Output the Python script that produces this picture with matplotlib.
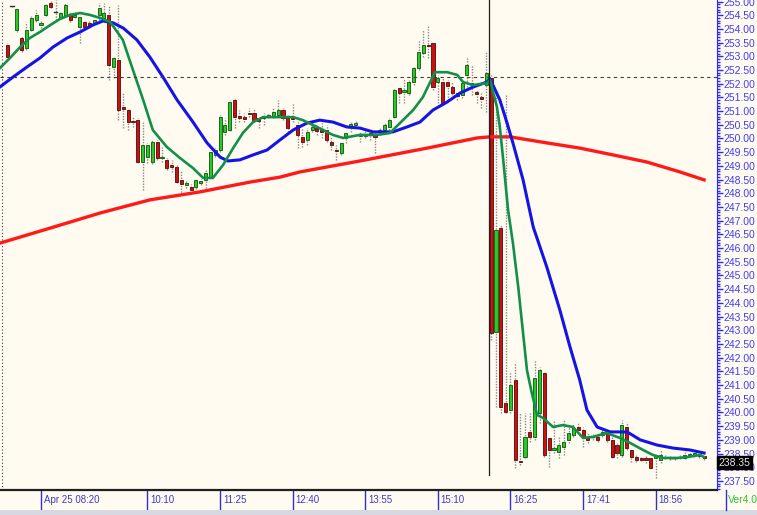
import matplotlib
matplotlib.use('Agg')
import matplotlib.pyplot as plt
import matplotlib.transforms as mtransforms
from matplotlib.patches import Rectangle
from matplotlib.lines import Line2D
from matplotlib.ticker import MultipleLocator, FormatStrFormatter

plt.rcParams['font.family'] = ['Liberation Sans', 'DejaVu Sans']

## 5 minute candles, bar 1 .. 145
opens = [253.41, 254.84, 253.96, 253.67, 253.30, 253.96, 254.33, 254.14, 254.51, 254.95,
         254.62, 254.40, 254.51, 254.51, 254.45, 254.07, 254.25, 254.22, 254.22, 254.51,
         254.40, 254.51, 252.61, 252.87, 251.15, 251.04, 250.64, 250.68, 249.14, 249.33,
         249.14, 249.87, 249.29, 249.22, 249.03, 248.96, 248.49, 248.30, 248.23, 248.23,
         248.38, 248.49, 248.60, 249.40, 249.58, 250.24, 250.31, 251.41, 250.82, 250.78,
         250.93, 250.93, 250.75, 250.82, 250.78, 250.78, 250.86, 251.04, 250.78, 250.75,
         250.49, 250.05, 249.95, 250.31, 250.38, 250.31, 250.31, 249.87, 249.58, 249.47,
         250.02, 250.42, 250.49, 250.09, 250.09, 250.20, 250.13, 250.24, 250.31, 250.42,
         250.78, 251.84, 251.70, 251.66, 252.06, 252.57, 253.12, 253.41, 253.49, 252.06,
         252.06, 252.06, 251.88, 251.66, 251.59, 252.32, 252.03, 251.70, 251.51, 251.95,
         252.21, 242.94, 246.73, 240.34, 240.09, 241.19, 238.23, 238.37, 239.29, 239.11,
         239.98, 241.44, 239.07, 238.63, 238.56, 238.74, 239.00, 239.18, 239.47, 239.36,
         239.11, 239.14, 239.11, 239.18, 239.25, 239.00, 238.81, 238.45, 239.47, 238.63,
         238.37, 238.34, 238.34, 238.34, 238.34, 238.27, 238.37, 238.34, 238.32, 238.34,
         238.34, 238.45, 238.45, 238.45, 238.41]
highs = [253.49, 254.86, 254.80, 253.74, 254.25, 254.47, 254.69, 254.29, 254.91, 255.05,
         255.05, 254.62, 254.95, 254.62, 254.60, 254.51, 254.29, 254.29, 254.36, 254.95,
         254.95, 254.87, 253.01, 254.87, 251.70, 251.11, 250.78, 250.75, 250.60, 249.84,
         249.95, 249.95, 249.69, 249.29, 249.22, 249.03, 248.85, 248.45, 248.34, 248.56,
         248.52, 248.85, 249.58, 249.65, 250.86, 250.75, 251.41, 251.48, 251.04, 250.93,
         251.11, 251.11, 250.78, 250.93, 250.93, 251.11, 251.41, 251.11, 250.86, 251.30,
         250.60, 250.38, 250.38, 250.60, 250.49, 250.57, 250.49, 250.05, 249.76, 249.87,
         250.24, 250.60, 250.68, 250.24, 250.27, 250.31, 250.20, 250.42, 250.60, 250.75,
         251.84, 251.88, 252.21, 252.14, 252.61, 253.60, 253.96, 254.14, 253.49, 252.32,
         252.21, 252.14, 252.06, 251.70, 252.06, 252.97, 252.68, 251.77, 251.66, 253.16,
         252.32, 251.66, 246.84, 251.60, 241.44, 241.81, 239.98, 239.98, 239.98, 241.92,
         241.66, 241.48, 239.11, 239.73, 239.11, 239.73, 239.54, 239.62, 239.65, 239.47,
         239.25, 239.21, 239.21, 239.36, 239.36, 239.11, 238.89, 239.73, 239.65, 238.70,
         238.45, 238.37, 238.41, 238.37, 238.52, 238.63, 238.45, 238.41, 238.37, 238.45,
         238.63, 238.56, 238.63, 238.52, 238.48]
lows = [252.86, 254.80, 253.89, 253.16, 253.23, 253.92, 254.25, 254.03, 254.47, 254.76,
        254.33, 254.36, 254.47, 254.25, 254.40, 253.49, 254.03, 254.03, 254.18, 254.33,
        254.40, 252.14, 252.21, 250.68, 250.38, 250.31, 250.42, 249.11, 248.12, 249.11,
        249.07, 249.22, 249.14, 248.85, 248.78, 248.38, 247.94, 248.19, 248.01, 248.16,
        248.30, 248.19, 248.56, 249.32, 249.51, 250.13, 250.27, 250.38, 250.60, 250.60,
        250.78, 250.60, 250.38, 250.49, 250.75, 250.75, 250.86, 250.68, 250.24, 250.60,
        249.65, 249.69, 249.76, 250.24, 250.13, 250.02, 249.87, 249.58, 249.22, 249.40,
        249.84, 250.24, 250.38, 249.87, 250.02, 249.95, 249.47, 250.13, 250.20, 250.31,
        250.75, 251.30, 251.30, 251.59, 251.95, 252.50, 252.97, 252.94, 251.77, 251.30,
        251.22, 251.41, 251.59, 251.41, 251.48, 251.88, 251.59, 251.30, 251.11, 250.97,
        242.64, 240.20, 239.98, 239.98, 239.98, 237.97, 238.08, 238.34, 238.92, 239.00,
        239.62, 238.37, 238.01, 238.52, 238.34, 238.45, 238.89, 239.11, 239.25, 238.74,
        238.89, 239.00, 238.92, 239.11, 238.92, 238.34, 238.34, 238.37, 238.63, 238.19,
        238.19, 238.23, 238.16, 237.97, 237.61, 238.16, 238.30, 238.27, 238.27, 238.30,
        238.30, 238.37, 238.37, 238.34, 238.27]
closes = [252.97, 254.82, 254.73, 253.23, 253.96, 254.40, 254.51, 254.22, 254.87, 254.80,
          254.60, 254.58, 254.87, 254.33, 254.50, 254.44, 254.07, 254.11, 254.33, 254.76,
          254.58, 252.68, 252.94, 251.04, 251.08, 250.60, 250.60, 249.14, 249.76, 249.76,
          249.87, 249.29, 249.32, 248.92, 248.96, 248.41, 248.34, 248.38, 248.12, 248.49,
          248.45, 248.74, 249.51, 249.58, 250.78, 250.49, 251.33, 250.78, 250.75, 250.71,
          250.89, 250.68, 250.64, 250.75, 250.86, 250.97, 251.04, 250.75, 250.38, 250.72,
          250.13, 249.87, 250.24, 250.42, 250.27, 250.24, 249.95, 249.76, 249.54, 249.84,
          250.20, 250.53, 250.57, 250.16, 250.16, 250.13, 250.05, 250.31, 250.49, 250.68,
          251.77, 251.66, 251.77, 252.06, 252.57, 253.16, 253.41, 253.38, 251.88, 252.21,
          251.30, 251.92, 251.66, 251.55, 252.03, 252.68, 251.99, 251.62, 251.44, 252.39,
          242.90, 246.66, 240.20, 240.02, 241.00, 238.27, 238.19, 239.11, 239.11, 241.26,
          241.55, 238.45, 238.63, 238.70, 238.81, 238.92, 239.25, 239.43, 239.36, 239.07,
          239.00, 239.11, 239.00, 239.29, 239.00, 238.37, 238.52, 239.54, 238.70, 238.37,
          238.27, 238.27, 238.27, 237.97, 238.45, 238.45, 238.34, 238.32, 238.34, 238.37,
          238.45, 238.48, 238.52, 238.41, 238.35]
bars = list(range(1, len(opens) + 1))

## moving averages (bar position, price)
fast_x = [-0.5, 1.6, 3.7, 5.7, 7.8, 9.9, 11.9, 14.0, 16.1, 18.1, 20.2, 22.3, 24.9, 27.0,
          29.1, 31.1, 34.0, 36.7, 39.4, 41.5, 43.5, 45.6, 47.7, 49.7, 51.8, 53.9, 58.0,
          60.1, 62.1, 64.2, 66.3, 68.3, 70.4, 73.9, 77.4, 80.1, 82.2, 84.9, 86.9, 88.8,
          89.4, 91.9, 94.0, 95.2, 97.2, 100.1, 100.8, 102.2, 102.8, 103.5, 104.5, 105.5,
          106.6, 107.6, 108.4, 109.4, 110.5, 111.7, 113.8, 115.8, 117.9, 120.0, 122.0,
          124.9, 127.6, 129.7, 132.4, 134.4, 136.5, 139.4, 141.5, 144.2, 145.0]
fast_y = [252.57, 252.94, 253.34, 253.67, 253.89, 254.14, 254.36, 254.51, 254.58, 254.51,
          254.40, 254.25, 253.60, 252.50, 251.41, 250.31, 249.69, 249.29, 248.92, 248.56,
          248.56, 249.03, 249.65, 250.20, 250.60, 250.78, 250.78, 250.78, 250.67, 250.49,
          250.31, 250.13, 250.02, 250.13, 250.13, 250.20, 250.57, 251.04, 251.51, 252.20,
          252.42, 252.42, 252.32, 252.06, 251.95, 252.02, 252.13, 251.15, 250.42, 249.22,
          247.39, 246.19, 244.58, 242.90, 241.55, 240.71, 239.91, 239.80, 239.47, 239.54,
          239.47, 239.07, 239.11, 239.25, 239.07, 238.89, 238.63, 238.45, 238.34, 238.34,
          238.37, 238.45, 238.37]
mid_x = [-0.5, 2.2, 5.1, 7.8, 10.5, 13.4, 16.1, 18.7, 20.8, 22.9, 25.0, 27.8, 30.5, 33.2,
         36.1, 39.4, 42.3, 45.0, 46.6, 49.1, 51.8, 54.7, 57.4, 60.1, 62.9, 65.6, 68.3,
         71.2, 73.9, 76.6, 80.7, 83.6, 86.3, 89.0, 91.9, 94.6, 97.3, 100.1, 100.8, 102.8,
         104.3, 105.5, 107.6, 109.7, 112.5, 115.2, 117.3, 119.3, 120.8, 122.9, 125.6,
         129.1, 131.8, 135.3, 138.6, 142.1, 145.0]
mid_y = [251.88, 252.24, 252.61, 252.94, 253.34, 253.67, 253.89, 254.14, 254.29, 254.22,
         254.03, 253.60, 252.97, 252.24, 251.41, 250.60, 249.84, 249.32, 249.18, 249.22,
         249.40, 249.58, 249.95, 250.31, 250.56, 250.67, 250.60, 250.42, 250.38, 250.24,
         250.24, 250.42, 250.60, 251.04, 251.33, 251.66, 251.88, 252.06, 252.17, 251.41,
         250.56, 249.84, 248.49, 246.77, 245.31, 243.74, 242.39, 241.19, 240.09, 239.47,
         239.29, 239.29, 239.00, 238.81, 238.70, 238.63, 238.52]
slow_x = [-0.5, 9.9, 20.2, 30.5, 40.8, 51.2, 57.4, 61.5, 73.9, 87.8, 98.1, 100.8, 104.9,
          112.5, 119.3, 126.2, 133.2, 140.0, 145.0]
slow_y = [246.18, 246.73, 247.28, 247.76, 248.05, 248.41, 248.59, 248.78, 249.18, 249.65,
          250.02, 250.06, 250.06, 249.84, 249.65, 249.40, 249.14, 248.78, 248.49]

tick_bars = [8, 30, 45, 60, 75, 90, 105, 120, 135]
tick_labels = ['Apr 25 08:20', '10:10', '11:25', '12:40', '13:55', '15:10',
               '16:25', '17:41', '18:56']
last_price = 238.35
cross_bar = 100.56
cross_price = 252.24

bg = '#fffbf0'
fig = plt.figure(figsize=(7.57, 5.15), dpi=100, facecolor=bg)
ax = fig.add_axes([0, 25 / 515, 717 / 757, 490 / 515], facecolor=bg)

# candles
for b, o, h, l, c in zip(bars, opens, highs, lows, closes):
    ax.plot([b, b], [l, h], color='#8a8a8a', lw=1, linestyle=(0, (1, 1)), zorder=2)
    if abs(c - o) < 0.03:
        ax.plot([b - 0.35, b + 0.35], [c, c], color='#303030', lw=1, zorder=2.5)
        continue
    face = '#22cc22' if c > o else '#cc1010'
    edge = '#105010' if c > o else '#500808'
    ax.add_patch(Rectangle((b - 0.32, min(o, c)), 0.64, abs(c - o),
                           facecolor=face, edgecolor=edge, lw=0.6, zorder=2.5))

# moving averages
ax.plot(slow_x, slow_y, color='#ff1a1a', lw=2.4, zorder=3)
ax.plot(mid_x, mid_y, color='#1414e6', lw=2.2, zorder=3.2)
ax.plot(fast_x, fast_y, color='#12904a', lw=1.9, zorder=3.4)

# crosshair
ax.axhline(cross_price, color='#404040', lw=0.8, linestyle=(0, (3, 3)), zorder=4)
ax.plot([cross_bar, cross_bar], [237.72, 256], color='#202020', lw=0.9, zorder=4)
ax.axvline(0, color='#404040', lw=0.8, linestyle=(0, (1, 2)), zorder=1)

ax.set_xlim(-0.475, 147.67)
ax.set_ylim(237.17, 255.055)

# price axis on the right
ax.yaxis.tick_right()
ax.yaxis.set_major_locator(MultipleLocator(0.5))
ax.yaxis.set_minor_locator(MultipleLocator(0.1))
ax.yaxis.set_major_formatter(FormatStrFormatter('%.2f'))
ax.tick_params(axis='y', which='major', length=4, width=1, color='#2a2aff',
               labelcolor='#4040f0', labelsize=7.5, pad=0.5)
ax.tick_params(axis='y', which='minor', length=2.5, width=1, color='#2a2aff')
for side in ['top', 'left']:
    ax.spines[side].set_visible(False)
ax.spines['right'].set_color('#2a2aff')
ax.spines['bottom'].set_color('#202020')
ax.spines['bottom'].set_linewidth(1.6)

# time axis
ax.set_xticks([])
trans = mtransforms.blended_transform_factory(ax.transData, ax.transAxes)
for b, lab in zip(tick_bars, tick_labels):
    ax.plot([b, b], [0, -20 / 490], color='#3030d0', lw=1, transform=trans, clip_on=False)
    ax.text(b + 0.6, -10 / 490, lab, transform=trans, color='#3c3cc8', fontsize=7,
            ha='left', va='center')

# last price box
ptrans = mtransforms.blended_transform_factory(ax.transAxes, ax.transData)
ax.text(1.002, last_price, f'{last_price:.2f}', transform=ptrans, color='#e8e8e8',
        fontsize=7.5, ha='left', va='top', zorder=6,
        bbox=dict(facecolor='black', edgecolor='black', pad=1.2))

# bottom strip
fig.patches.append(Rectangle((0, 0), 1, 5 / 515, transform=fig.transFigure,
                             facecolor='#d8d8e0', edgecolor='none'))
fig.lines.append(Line2D([726 / 757, 726 / 757], [5 / 515, 25 / 515],
                        transform=fig.transFigure, color='#3030d0', lw=1))
fig.text(728 / 757, 15 / 515, 'Ver4.02', color='#30c030', fontsize=7.5,
         ha='left', va='center')

plt.savefig('out.png', dpi=100, facecolor=bg)
